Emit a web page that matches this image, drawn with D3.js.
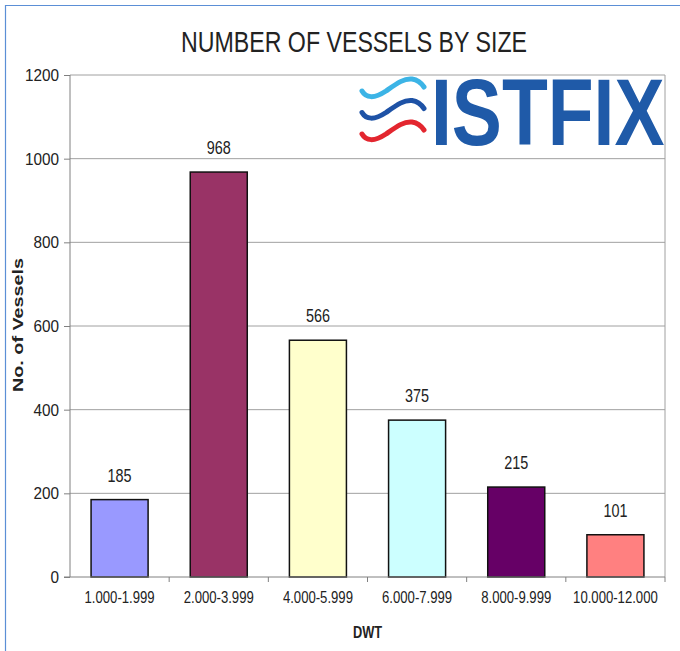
<!DOCTYPE html>
<html>
<head>
<meta charset="utf-8">
<script src="https://cdn.jsdelivr.net/npm/d3@7"></script>
<style>
  body { margin: 0; background: #fff; }
  svg { display: block; }
  text { font-family: "Liberation Sans", Arial, sans-serif; fill: #222; }
</style>
</head>
<body>
<svg id="chart" width="680" height="651"></svg>
<script>
// data
const sizes = ["1.000-1.999", "2.000-3.999", "4.000-5.999", "6.000-7.999", "8.000-9.999", "10.000-12.000"];
const vessels = [185, 968, 566, 375, 215, 101];
const barColors = ["#9999ff", "#993366", "#ffffcc", "#ccffff", "#660066", "#ff8080"];
const yTicks = [0, 200, 400, 600, 800, 1000, 1200];

let svg = d3.select("#chart"),
  width = +svg.attr("width"),
  height = +svg.attr("height");

let margin = {top: 75, right: 15, bottom: 74, left: 70};

// the source picture is squeezed sideways, so squeeze text the same way
function narrow(sel, k) {
  sel.each(function() {
    let w = this.getComputedTextLength();
    d3.select(this).attr("textLength", w * k).attr("lengthAdjust", "spacingAndGlyphs");
  });
}

// outer frame (only top and left edge show)
svg.append("path")
  .attr("d", "M5.5," + height + "V5.5H" + width)
  .attr("fill", "none")
  .attr("stroke", "#5b8fd6")
  .attr("stroke-width", 1.2);

let x = d3.scaleBand()
  .domain(sizes)
  .range([margin.left, width - margin.right])
  .paddingInner(0.425)
  .paddingOuter(0.2125);

let y = d3.scaleLinear()
  .domain([0, 1200])
  .range([height - margin.bottom, margin.top]);

// title
svg.append("text")
  .attr("x", 354)
  .attr("y", 52)
  .attr("text-anchor", "middle")
  .attr("textLength", 346)
  .attr("lengthAdjust", "spacingAndGlyphs")
  .style("font-size", "30px")
  .text("NUMBER OF VESSELS BY SIZE");

// gridlines
svg.append("g")
  .selectAll("line")
  .data(yTicks.filter(d => d > 0))
  .enter().append("line")
  .attr("x1", margin.left)
  .attr("x2", width - margin.right)
  .attr("y1", d => y(d))
  .attr("y2", d => y(d))
  .attr("stroke", "#a0a0a0")
  .attr("stroke-width", 1);

// right border of plot
svg.append("line")
  .attr("x1", width - margin.right)
  .attr("x2", width - margin.right)
  .attr("y1", y(1200))
  .attr("y2", y(0))
  .attr("stroke", "#a0a0a0");

// logo (sits inside the plot area, top right)
let logo = svg.append("g");
let waveColors = ["#3cb4e6", "#1e52a6", "#e3262f"];
logo.selectAll("path")
  .data(waveColors)
  .enter().append("path")
  .attr("d", "M362,91 C366,98 374,99 386,91 C396,84 404,78 412,79 C418,80 422,84 424,87")
  .attr("transform", (d, i) => "translate(0," + (i * 21.5) + ")")
  .attr("fill", "none")
  .attr("stroke", d => d)
  .attr("stroke-width", 5)
  .attr("stroke-linecap", "round");
logo.append("text")
  .attr("transform", "translate(431,145) scale(0.79,1)")
  .style("font-weight", "bold")
  .style("font-size", "95px")
  .style("fill", "#1f5aa8")
  .text("ISTFIX");

// bars
svg.append("g")
  .selectAll("rect")
  .data(vessels)
  .enter().append("rect")
  .attr("x", (d, i) => x(sizes[i]))
  .attr("y", d => y(d))
  .attr("width", x.bandwidth())
  .attr("height", d => y(0) - y(d))
  .attr("fill", (d, i) => barColors[i])
  .attr("stroke", "#111")
  .attr("stroke-width", 1.5);

// value labels
svg.append("g")
  .selectAll("text")
  .data(vessels)
  .enter().append("text")
  .attr("x", (d, i) => x(sizes[i]) + x.bandwidth() / 2)
  .attr("y", d => y(d) - 18)
  .attr("text-anchor", "middle")
  .style("font-size", "18px")
  .text(d => d)
  .call(narrow, 0.8);

// y axis
let yAxis = svg.append("g")
  .attr("transform", "translate(" + margin.left + ",0)")
  .call(d3.axisLeft(y).tickValues(yTicks).tickFormat(d3.format("d")).tickSize(6).tickPadding(5));
yAxis.select(".domain").remove();
yAxis.append("line")
  .attr("y1", y(0))
  .attr("y2", y(1200))
  .attr("stroke", "#808080");
yAxis.selectAll("line").attr("stroke", "#808080");
yAxis.selectAll("text")
  .style("font-size", "17px")
  .attr("fill", "#222")
  .call(narrow, 0.9);

// x axis with ticks between categories
let xAxis = svg.append("g")
  .attr("transform", "translate(0," + y(0) + ")");
xAxis.append("line")
  .attr("x1", margin.left - 6)
  .attr("x2", width - margin.right)
  .attr("stroke", "#808080");
xAxis.selectAll(".sep")
  .data(sizes)
  .enter().append("line")
  .attr("class", "sep")
  .attr("x1", d => x(d) + x.bandwidth() + x.step() * x.paddingInner() / 2)
  .attr("x2", d => x(d) + x.bandwidth() + x.step() * x.paddingInner() / 2)
  .attr("y2", 5)
  .attr("stroke", "#808080");
xAxis.selectAll(".lab")
  .data(sizes)
  .enter().append("text")
  .attr("class", "lab")
  .attr("x", d => x(d) + x.bandwidth() / 2)
  .attr("y", 26)
  .attr("text-anchor", "middle")
  .style("font-size", "16px")
  .text(d => d)
  .call(narrow, 0.82);

// axis titles
svg.append("text")
  .attr("x", (margin.left + width - margin.right) / 2)
  .attr("y", 638)
  .attr("text-anchor", "middle")
  .style("font-size", "16px")
  .style("font-weight", "bold")
  .text("DWT")
  .call(narrow, 0.8);

svg.append("text")
  .attr("transform", "translate(23," + 325 + ") rotate(-90)")
  .attr("text-anchor", "middle")
  .attr("textLength", 134)
  .attr("lengthAdjust", "spacingAndGlyphs")
  .style("font-size", "15px")
  .style("font-weight", "bold")
  .text("No. of Vessels");
</script>
</body>
</html>
